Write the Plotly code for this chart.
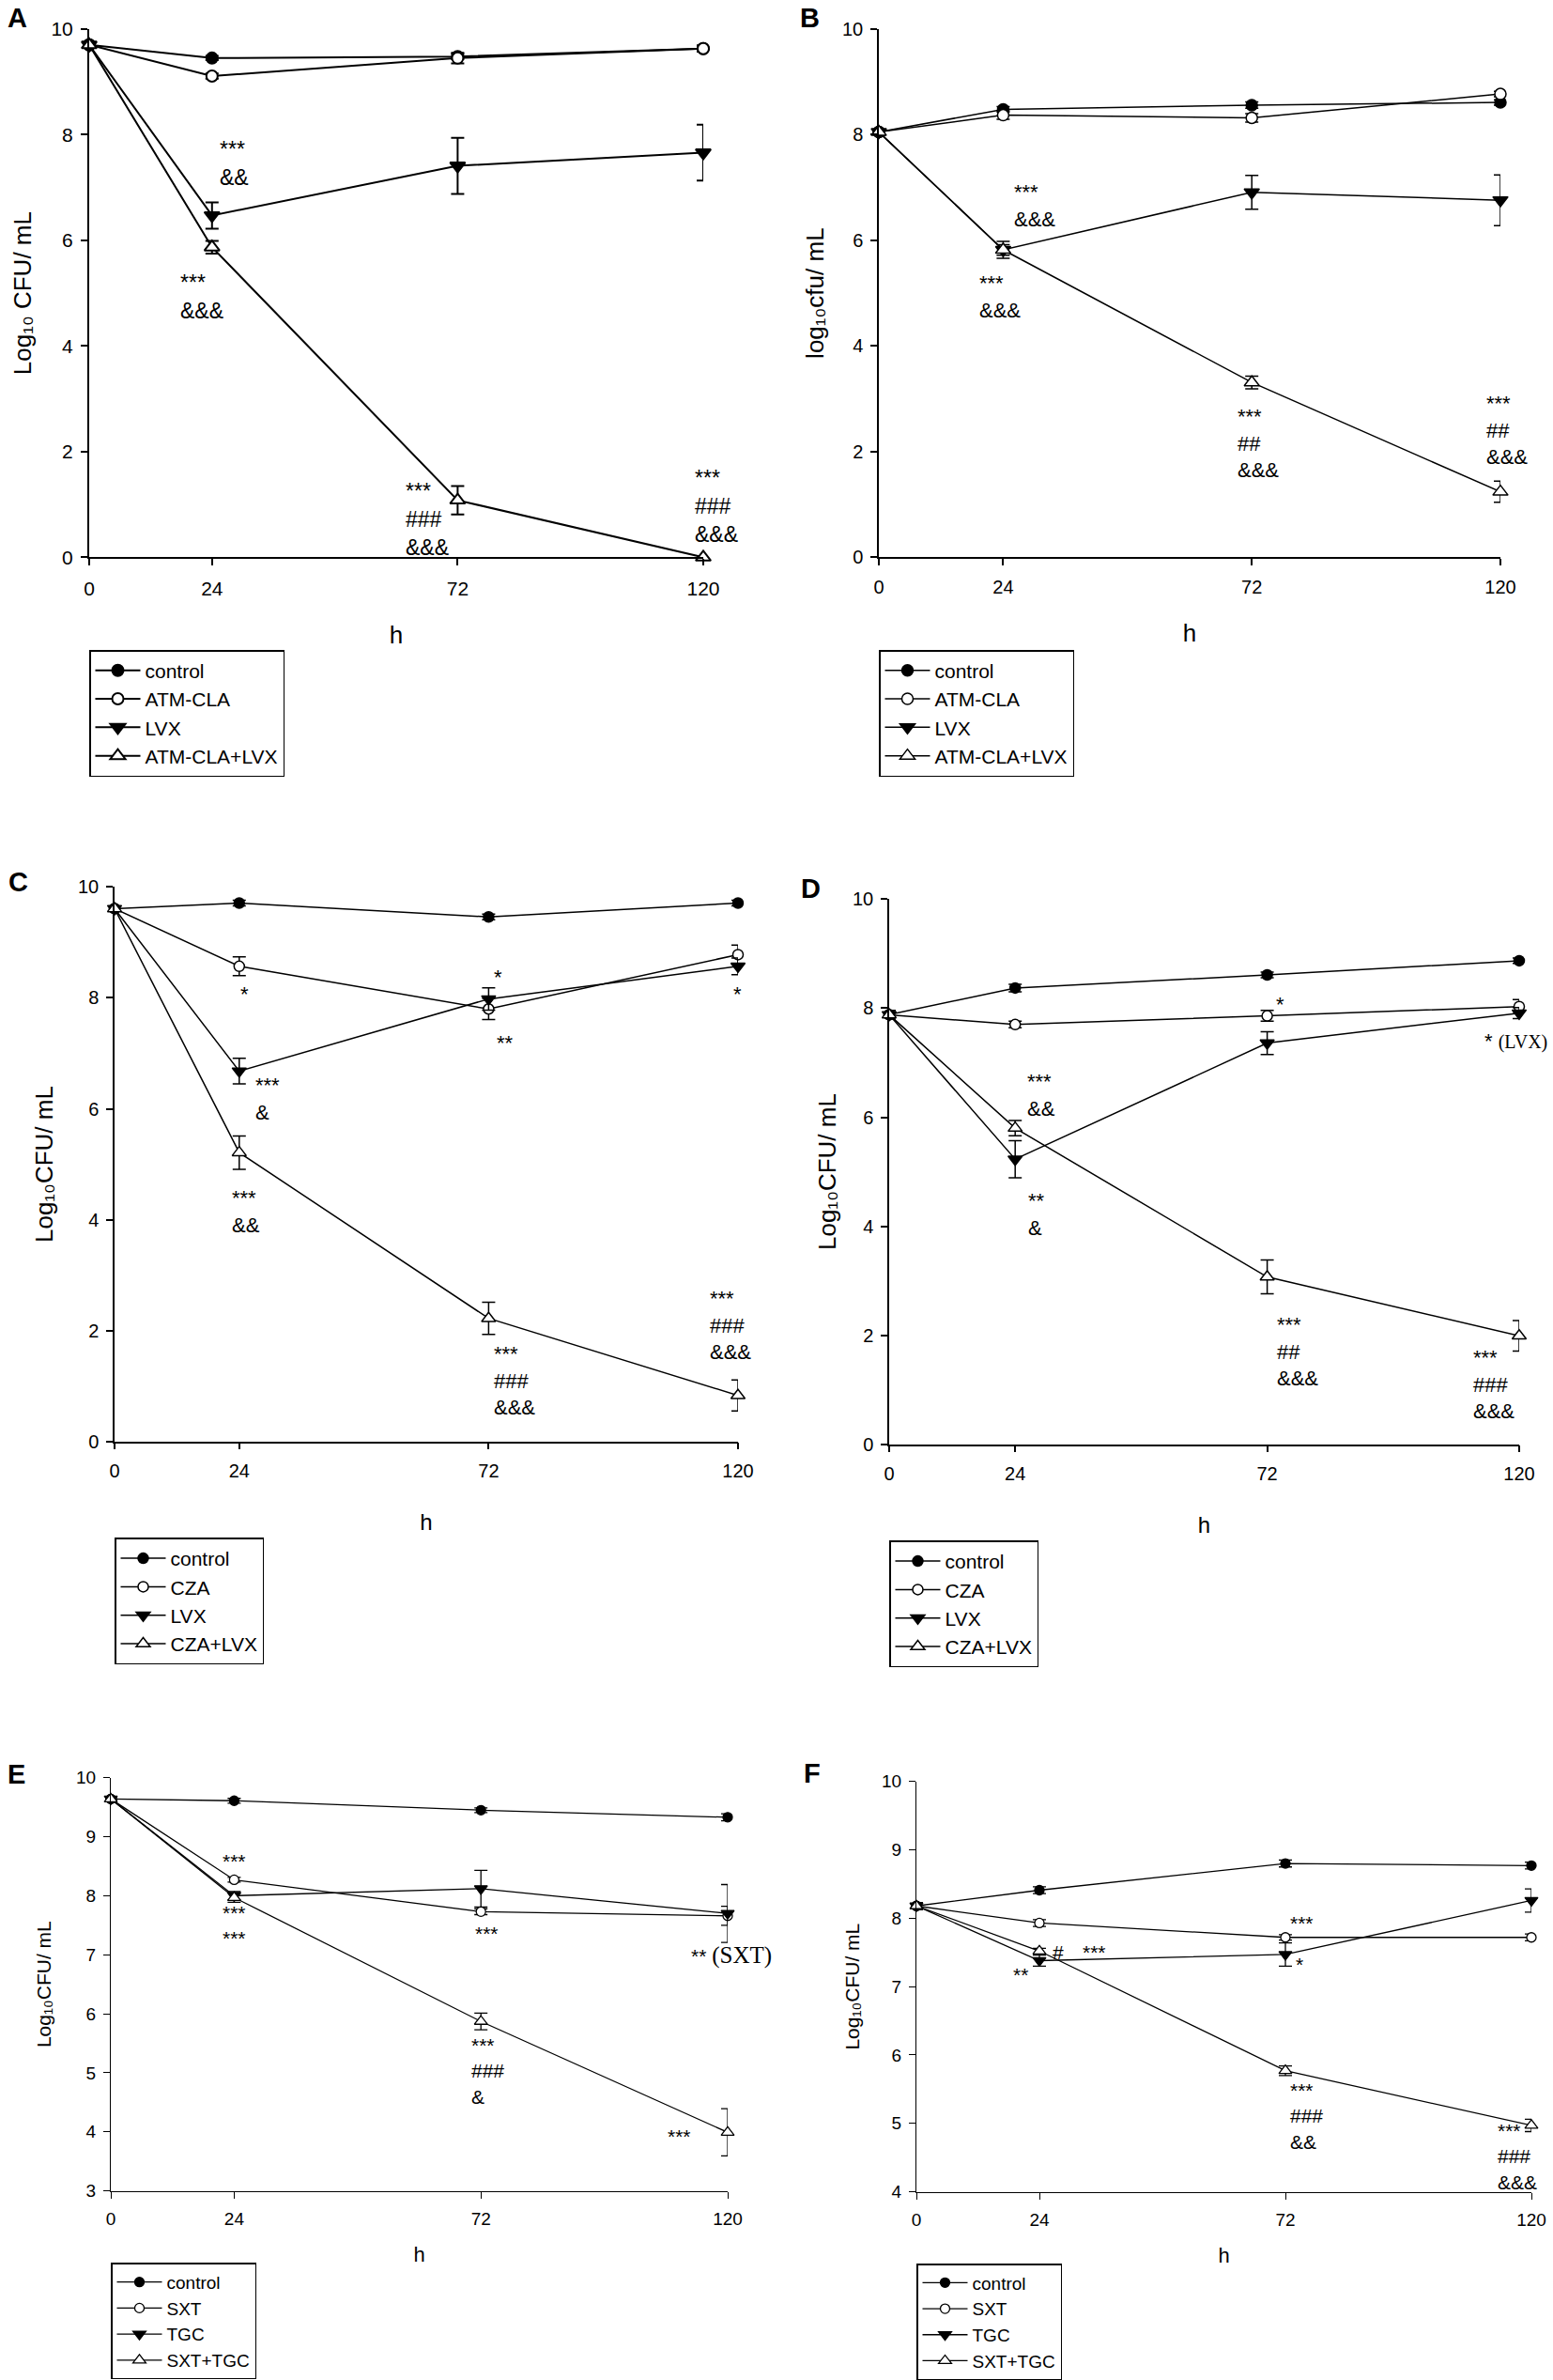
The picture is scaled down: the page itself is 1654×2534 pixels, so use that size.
import plotly.graph_objects as go

# ========== DATA (log10 CFU/mL) ==========
hours = [0, 24, 72, 120]

# Panel A - ATM-CLA / LVX
a_control = [9.70, 9.45, 9.48, 9.63]
a_control_err = [0.04, 0.04, 0.05, 0.05]
a_atmcla = [9.70, 9.11, 9.45, 9.63]
a_atmcla_err = [0.05, 0.05, 0.10, 0.06]
a_lvx = [9.70, 6.47, 7.41, 7.66]
a_lvx_err = [0.05, 0.25, 0.53, 0.53]
a_combo = [9.70, 5.87, 1.08, 0.0]
a_combo_err = [0.05, 0.12, 0.27, 0.0]

# Panel B - ATM-CLA / LVX
b_control = [8.05, 8.48, 8.56, 8.61]
b_control_err = [0.05, 0.05, 0.06, 0.05]
b_atmcla = [8.05, 8.37, 8.32, 8.77]
b_atmcla_err = [0.05, 0.08, 0.08, 0.05]
b_lvx = [8.05, 5.82, 6.91, 6.76]
b_lvx_err = [0.05, 0.10, 0.32, 0.48]
b_combo = [8.05, 5.82, 3.31, 1.24]
b_combo_err = [0.05, 0.16, 0.12, 0.20]

# Panel C - CZA / LVX
c_control = [9.61, 9.71, 9.46, 9.71]
c_control_err = [0.04, 0.05, 0.05, 0.05]
c_cza = [9.61, 8.57, 7.80, 8.78]
c_cza_err = [0.04, 0.17, 0.19, 0.17]
c_lvx = [9.61, 6.68, 7.98, 8.57]
c_lvx_err = [0.04, 0.23, 0.20, 0.15]
c_combo = [9.61, 5.21, 2.22, 0.83]
c_combo_err = [0.04, 0.30, 0.29, 0.28]

# Panel D - CZA / LVX
d_control = [7.88, 8.37, 8.61, 8.87]
d_control_err = [0.05, 0.07, 0.05, 0.05]
d_cza = [7.88, 7.70, 7.86, 8.03]
d_cza_err = [0.08, 0.06, 0.10, 0.13]
d_lvx = [7.88, 5.23, 7.36, 7.91]
d_lvx_err = [0.05, 0.34, 0.21, 0.10]
d_combo = [7.88, 5.80, 3.07, 1.99]
d_combo_err = [0.05, 0.14, 0.31, 0.28]

# Panel E - SXT / TGC
e_control = [9.64, 9.61, 9.45, 9.33]
e_control_err = [0.03, 0.04, 0.04, 0.06]
e_sxt = [9.64, 8.27, 7.73, 7.66]
e_sxt_err = [0.03, 0.04, 0.05, 0.16]
e_tgc = [9.64, 8.00, 8.12, 7.70]
e_tgc_err = [0.03, 0.07, 0.31, 0.49]
e_combo = [9.64, 7.97, 5.87, 3.99]
e_combo_err = [0.03, 0.08, 0.14, 0.40]

# Panel F - SXT / TGC
f_control = [8.18, 8.41, 8.80, 8.77]
f_control_err = [0.05, 0.05, 0.05, 0.05]
f_sxt = [8.18, 7.93, 7.72, 7.72]
f_sxt_err = [0.05, 0.05, 0.04, 0.05]
f_tgc = [8.18, 7.38, 7.47, 8.26]
f_tgc_err = [0.05, 0.08, 0.17, 0.17]
f_combo = [8.18, 7.52, 5.77, 4.97]
f_combo_err = [0.05, 0.04, 0.07, 0.09]

names_a = ["control", "ATM-CLA", "LVX", "ATM-CLA+LVX"]
names_c = ["control", "CZA", "LVX", "CZA+LVX"]
names_e = ["control", "SXT", "TGC", "SXT+TGC"]

SERIF = "font-family:'Liberation Serif', 'Times New Roman', serif"

# significance labels: (hour, value, text, anchor)
notes_a = [(25.1, 7.45, "***<br>&&", "left"), (17.4, 4.93, "***<br>&&&", "left"),
           (61.5, 0.72, "***<br>###<br>&&&", "left"), (118.0, 0.97, "***<br>###<br>&&&", "left")]
notes_b = [(25.7, 6.65, "***<br>&&&", "left"), (19.1, 4.94, "***<br>&&&", "left"),
           (68.9, 2.15, "***<br>##<br>&&&", "left"), (116.9, 2.41, "***<br>##<br>&&&", "left")]
notes_c = [(25.1, 8.06, "*", "center"), (73.8, 8.37, "*", "center"), (75.2, 7.19, "**", "center"),
           (119.9, 8.06, "*", "center"), (26.7, 6.17, "***<br>&", "left"), (22.2, 4.14, "***<br>&&", "left"),
           (72.7, 1.09, "***<br>###<br>&&&", "left"), (114.3, 2.10, "***<br>###<br>&&&", "left")]
notes_d = [(74.5, 8.06, "*", "center"),
           (113.0, 7.39, f"* <span style=\"{SERIF};font-size:20px\">(LVX)</span>", "left"),
           (26.0, 6.40, "***<br>&&", "left"), (26.1, 4.21, "**<br>&", "left"),
           (73.5, 1.70, "***<br>##<br>&&&", "left"), (110.8, 1.09, "***<br>###<br>&&&", "left")]
notes_e = [(24.0, 8.58, "***", "center"), (24.0, 7.49, "***<br>***", "center"), (73.2, 7.36, "***", "center"),
           (112.5, 6.99, f"** <span style=\"{SERIF};font-size:25px\">(SXT)</span>", "left"),
           (69.7, 5.03, "***<br>###<br>&", "left"), (110.6, 3.93, "***", "center")]
notes_f = [(27.6, 7.50, "#", "center"), (34.8, 7.50, "***", "center"), (20.4, 7.18, "**", "center"),
           (75.2, 7.93, "***", "center"), (74.7, 7.32, "*", "center"), (120.4, 7.47, "**", "center"),
           (72.5, 5.10, "***<br>###<br>&&", "left"), (113.1, 4.51, "***<br>###<br>&&&", "left")]

# ========== LAYOUT (pixel boxes of each panel) ==========
W, H = 1654, 2534
SANS = "Liberation Sans, Arial, sans-serif"

panels = [
    dict(tag="A", box=(95, 749, 31, 595), yr=(0, 10), dt=2, ytitle="Log₁₀ CFU/ mL",
         series=[a_control, a_atmcla, a_lvx, a_combo], errs=[a_control_err, a_atmcla_err, a_lvx_err, a_combo_err],
         names=names_a, notes=notes_a, leg=(95, 694), tag_xy=(18, 19), tfont=29,
         ysize=26, yoff=13, hsize=26, hoff=30, fsize=21, nsize=23, lsize=21, ms=12, lw=2.0),
    dict(tag="B", box=(936, 1598, 31, 595), yr=(0, 10), dt=2, ytitle="log₁₀cfu/ mL",
         series=[b_control, b_atmcla, b_lvx, b_combo], errs=[b_control_err, b_atmcla_err, b_lvx_err, b_combo_err],
         names=names_a, notes=notes_b, leg=(936, 694), tag_xy=(862, 19), tfont=29,
         ysize=26, yoff=12, hsize=26, hoff=30, fsize=20, nsize=22, lsize=21, ms=12, lw=1.5),
    dict(tag="C", box=(122, 786, 947, 1539), yr=(0, 10), dt=2, ytitle="Log₁₀CFU/ mL",
         series=[c_control, c_cza, c_lvx, c_combo], errs=[c_control_err, c_cza_err, c_lvx_err, c_combo_err],
         names=names_c, notes=notes_c, leg=(122, 1642), tag_xy=(19, 942), tfont=29,
         ysize=26, yoff=19, hsize=24, hoff=36, fsize=20, nsize=22, lsize=21, ms=11, lw=1.5),
    dict(tag="D", box=(947, 1618, 960, 1542), yr=(0, 10), dt=2, ytitle="Log₁₀CFU/ mL",
         series=[d_control, d_cza, d_lvx, d_combo], errs=[d_control_err, d_cza_err, d_lvx_err, d_combo_err],
         names=names_c, notes=notes_d, leg=(947, 1645), tag_xy=(863, 949), tfont=29,
         ysize=26, yoff=10, hsize=24, hoff=36, fsize=20, nsize=22, lsize=21, ms=11, lw=1.5),
    dict(tag="E", box=(118, 775, 1898, 2339), yr=(3, 10), dt=1, ytitle="Log₁₀CFU/ mL",
         series=[e_control, e_sxt, e_tgc, e_combo], errs=[e_control_err, e_sxt_err, e_tgc_err, e_combo_err],
         names=names_e, notes=notes_e, leg=(118, 2416), tag_xy=(17, 1894), tfont=29,
         ysize=21, yoff=20, hsize=22, hoff=20, fsize=19, nsize=21, lsize=19, ms=10, lw=1.3),
    dict(tag="F", box=(976, 1631, 1902, 2340), yr=(4, 10), dt=1, ytitle="Log₁₀CFU/ mL",
         series=[f_control, f_sxt, f_tgc, f_combo], errs=[f_control_err, f_sxt_err, f_tgc_err, f_combo_err],
         names=names_e, notes=notes_f, leg=(976, 2417), tag_xy=(865, 1893), tfont=29,
         ysize=21, yoff=17, hsize=22, hoff=20, fsize=19, nsize=21, lsize=19, ms=10, lw=1.3),
]

# marker style per series position: (symbol, fill)
marker_styles = [("circle", "black"), ("circle", "white"), ("triangle-down", "black"), ("triangle-up", "white")]


def fx(p):
    return p / W


def fy(p):
    return 1 - p / H


def main():
    fig = go.Figure()
    annotations = []

    for i, p in enumerate(panels):
        n = "" if i == 0 else str(i + 1)
        xa, ya, leg = "x" + n, "y" + n, "legend" + n
        x0, x1, y0, y1 = p["box"]

        for vals, err, name, (sym, fill) in zip(p["series"], p["errs"], p["names"], marker_styles):
            size = p["ms"] + (2 if "triangle" in sym else 0)
            fig.add_trace(go.Scatter(
                x=hours, y=vals, name=name, mode="lines+markers",
                error_y=dict(type="data", array=err, visible=True, color="black",
                             thickness=p["lw"], width=7),
                line=dict(color="black", width=p["lw"]),
                marker=dict(symbol=sym, size=size, color=fill, line=dict(color="black", width=p["lw"])),
                xaxis=xa, yaxis=ya, legend=leg, cliponaxis=False,
            ))

        axis_common = dict(showline=True, linecolor="black", linewidth=p["lw"], ticks="outside",
                           ticklen=7, tickwidth=p["lw"], tickcolor="black", showgrid=False,
                           zeroline=False, automargin=False,
                           tickfont=dict(family=SANS, size=p["fsize"], color="black"))
        fig.layout["xaxis" + n] = dict(domain=[fx(x0), fx(x1)], anchor=ya, range=[0, 120],
                                       tickvals=hours, ticklabelstandoff=6,
                                       title=dict(text="h", standoff=p["hoff"],
                                                  font=dict(family=SANS, size=p["hsize"], color="black")),
                                       **axis_common)
        fig.layout["yaxis" + n] = dict(domain=[fy(y1), fy(y0)], anchor=xa, range=list(p["yr"]),
                                       dtick=p["dt"], tick0=0, ticklabelstandoff=4,
                                       title=dict(text=p["ytitle"], standoff=p["yoff"],
                                                  font=dict(family=SANS, size=p["ysize"], color="black")),
                                       **axis_common)

        fig.layout[leg] = dict(x=fx(p["leg"][0]), y=fy(p["leg"][1]), xanchor="left", yanchor="top",
                               bordercolor="black", borderwidth=1.5, bgcolor="white",
                               font=dict(family=SANS, size=p["lsize"], color="black"),
                               itemwidth=48, tracegroupgap=0, traceorder="normal")

        # panel letter
        annotations.append(dict(text="<b>%s</b>" % p["tag"], x=fx(p["tag_xy"][0]), y=fy(p["tag_xy"][1]),
                                xref="paper", yref="paper", showarrow=False,
                                xanchor="center", yanchor="middle",
                                font=dict(family=SANS, size=p["tfont"], color="black")))

        for hx, vy, txt, anchor in p["notes"]:
            annotations.append(dict(text=txt, x=hx, y=vy, xref=xa, yref=ya, showarrow=False,
                                    xanchor=anchor, align="left" if anchor == "left" else "center",
                                    yanchor="middle",
                                    font=dict(family=SANS, size=p["nsize"], color="black")))

    fig.update_layout(width=W, height=H, margin=dict(l=0, r=0, t=0, b=0), autosize=False,
                      paper_bgcolor="white", plot_bgcolor="white", showlegend=True,
                      font=dict(family=SANS, color="black"), annotations=annotations)
    # drop the default page margin so the figure sits at the window's top-left corner
    fig.write_html("out.html", config={"displayModeBar": False},
                   post_script="document.body.style.margin='0';document.body.style.overflow='hidden';")


if __name__ == '__main__':
    main()
